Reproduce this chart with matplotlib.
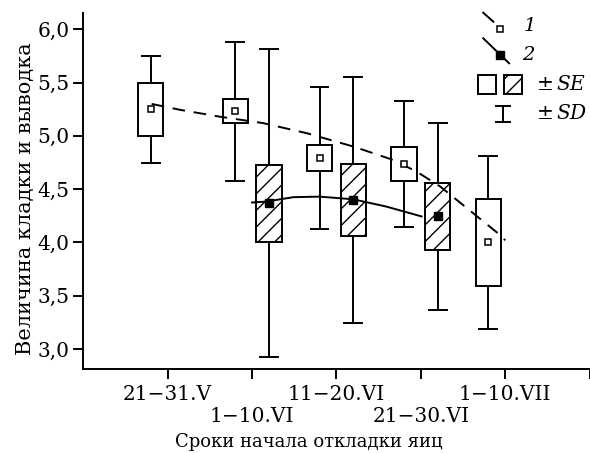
import matplotlib
matplotlib.use("Agg")
import matplotlib.pyplot as plt
from matplotlib.patches import Rectangle

plt.rcParams["font.family"] = "DejaVu Serif"
plt.rcParams["mathtext.fontset"] = "dejavuserif"
plt.rcParams["hatch.linewidth"] = 1.0

periods = ["21−31.V", "1−10.VI", "11−20.VI", "21−30.VI", "1−10.VII"]
yticks = [3.0, 3.5, 4.0, 4.5, 5.0, 5.5, 6.0]
ytick_labels = ["3,0", "3,5", "4,0", "4,5", "5,0", "5,5", "6,0"]

# series 1 (clutch, open boxes), periods 1..5
pos1 = [1, 2, 3, 4, 5]
mean1 = [5.25, 5.23, 4.79, 4.735, 4.00]
se1 = [0.25, 0.113, 0.123, 0.157, 0.406]
sd1 = [0.50, 0.655, 0.667, 0.588, 0.813]

# series 2 (brood, hatched boxes), periods 2..4
pos2 = [2, 3, 4]
mean2 = [4.37, 4.40, 4.245]
se2 = [0.361, 0.339, 0.317]
sd2 = [1.447, 1.155, 0.879]

# trend lines
trend1_x = [0.81, 1.15, 1.62, 2.13, 2.65, 3.20, 3.67, 3.95, 4.23, 4.62, 4.94, 5.0]
trend1_y = [5.30, 5.244, 5.18, 5.12, 5.025, 4.90, 4.775, 4.665, 4.525, 4.275, 4.07, 4.02]
trend2_x = [2.0, 2.17, 2.49, 2.80, 3.20, 3.59, 4.01]
trend2_y = [4.375, 4.384, 4.425, 4.43, 4.405, 4.337, 4.244]

fig = plt.figure(figsize=(5.9, 4.53), dpi=100)
ax = fig.add_axes([0.1412, 0.1848, 0.858, 0.7872])

BW = 0.30   # box width
CW = 0.21   # cap width
LW = 1.4


def draw_box(x, m, se, sd, hatch):
    ax.plot([x, x], [m - sd, m + sd], color="black", lw=LW, zorder=2)
    ax.plot([x - CW / 2, x + CW / 2], [m + sd, m + sd], color="black", lw=LW, zorder=2)
    ax.plot([x - CW / 2, x + CW / 2], [m - sd, m - sd], color="black", lw=LW, zorder=2)
    ax.add_patch(Rectangle((x - BW / 2, m - se), BW, 2 * se, facecolor="white",
                           edgecolor="black", lw=LW, hatch=hatch, zorder=3))


for p, m, se, sd in zip(pos1, mean1, se1, sd1):
    draw_box(p - 0.2, m, se, sd, None)
for p, m, se, sd in zip(pos2, mean2, se2, sd2):
    draw_box(p + 0.2, m, se, sd, "//")

ax.plot(trend1_x, trend1_y, color="black", lw=LW, dashes=(6.5, 4.5), zorder=4)
ax.plot(trend2_x, trend2_y, color="black", lw=LW, zorder=4)

ax.plot([p - 0.2 for p in pos1], mean1, ls="none", marker="s", ms=5, mfc="white",
        mec="black", mew=1.1, zorder=5)
ax.plot([p + 0.2 for p in pos2], mean2, ls="none", marker="s", ms=6, mfc="black",
        mec="black", zorder=5)

# legend drawn by hand
ax.plot([4.74, 4.86], [6.156, 6.071], color="black", lw=LW, zorder=5, clip_on=False)
ax.plot([4.943], [6.003], marker="s", ms=5, mfc="white", mec="black", mew=1.1, zorder=5)
ax.text(5.22, 6.03, "1", fontsize=14, style="italic", va="center", ha="left")
ax.plot([4.74, 5.047], [5.916, 5.681], color="black", lw=LW, zorder=5)
ax.plot([4.943], [5.762], marker="s", ms=6, mfc="black", mec="black", zorder=5)
ax.text(5.2, 5.76, "2", fontsize=14, style="italic", va="center", ha="left")
ax.add_patch(Rectangle((4.68, 5.393), 0.215, 0.178, facecolor="white",
                       edgecolor="black", lw=LW, zorder=5))
ax.add_patch(Rectangle((4.985, 5.393), 0.215, 0.178, facecolor="white",
                       edgecolor="black", lw=LW, hatch="//", zorder=5))
ax.text(5.36, 5.478, r"$\pm\,SE$", fontsize=14.5, va="center", ha="left")
ax.plot([4.973, 4.973], [5.128, 5.281], color="black", lw=LW)
ax.plot([4.89, 5.056], [5.281, 5.281], color="black", lw=LW)
ax.plot([4.89, 5.056], [5.128, 5.128], color="black", lw=LW)
ax.text(5.36, 5.206, r"$\pm\,SD$", fontsize=14.5, va="center", ha="left")

ax.set_xlim(0, 6)
ax.set_ylim(2.81, 6.156)
ax.set_yticks(yticks)
ax.set_yticklabels(ytick_labels, fontsize=14.5)
# odd periods on the first row (major ticks), even ones on the second row (minor ticks)
ax.set_xticks([1, 3, 5])
ax.set_xticklabels(periods[0::2], fontsize=14.5)
ax.set_xticks([2, 4, 6], minor=True)
ax.set_xticklabels(periods[1::2] + [""], minor=True, fontsize=14.5)
ax.tick_params(which="both", direction="out", length=7, width=LW)
ax.tick_params(axis="y", pad=3)
ax.tick_params(axis="x", which="major", pad=4)
ax.tick_params(axis="x", which="minor", pad=20)
for s in ["top", "right"]:
    ax.spines[s].set_visible(False)
for s in ["left", "bottom"]:
    ax.spines[s].set_linewidth(LW)

ax.set_xlabel("Сроки начала откладки яиц", fontsize=13)
ax.xaxis.set_label_coords(0.446, -0.178)
ax.set_ylabel("Величина кладки и выводка", fontsize=15)
ax.yaxis.set_label_coords(-0.096, 0.479)

fig.savefig("out.png", dpi=100)
